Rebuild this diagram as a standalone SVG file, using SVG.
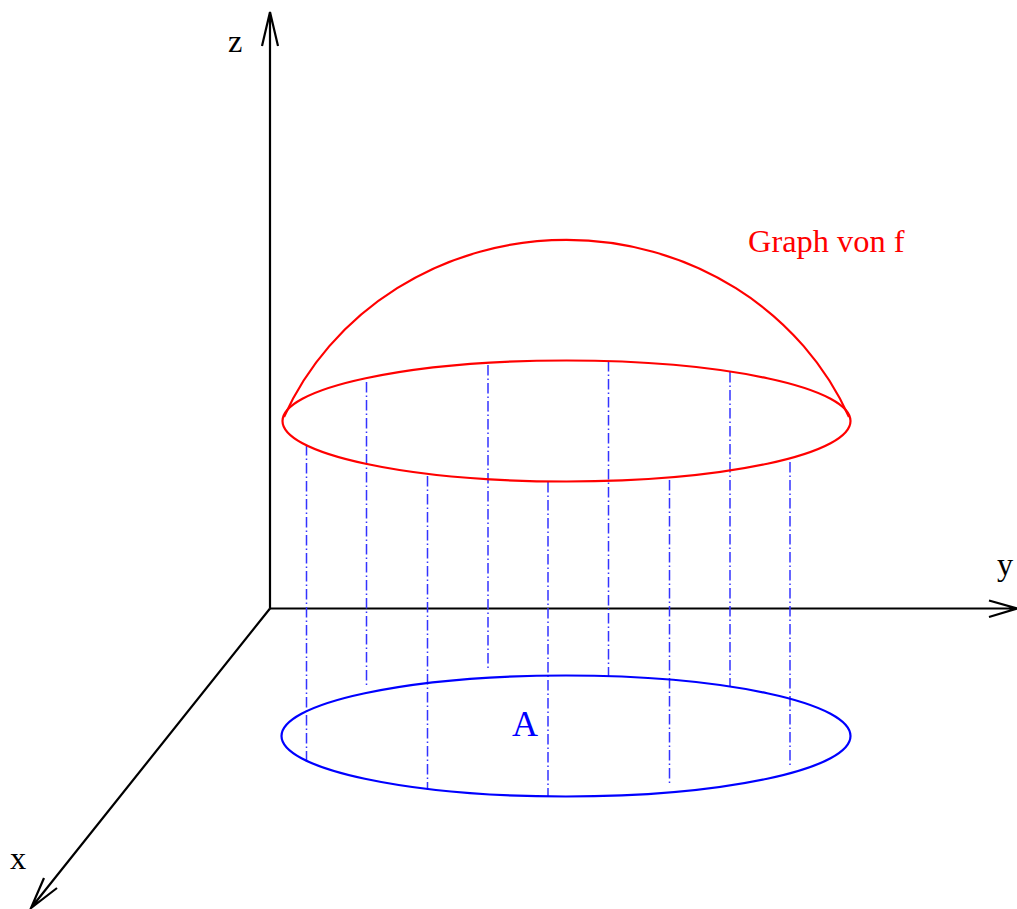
<svg xmlns="http://www.w3.org/2000/svg" width="1017" height="909" viewBox="0 0 1017 909">
<style>
text{font-family:"Liberation Serif","Times New Roman",serif;font-size:32.4px}
.ax{fill:none;stroke:#000;stroke-width:2.200}
.dd{fill:none;stroke:#3333ff;stroke-width:1.500;stroke-dasharray:10.500 3 1.500 3}
.r{fill:none;stroke:#f00;stroke-width:2.200}
.b{fill:none;stroke:#00f;stroke-width:2.200}
</style>
<rect width="1017" height="909" fill="#fff"/>
<g id="connectors">
<path class="ax" d="M270 608.500V12M262 46L270 12L278 46"/>
<path class="ax" d="M270 608.500H1017M989 600.500L1017 608.500L989 617"/>
<path class="ax" d="M270 608.500L31 908M44 878L31 908L57 888"/>
<path class="dd" d="M306.500 445V762M366.500 382V685M427.500 476V790M488 365V670M548 482V797M608.500 361V676M669.500 480V786M730 372V686M790 462V768"/>
</g>
<g id="graph">
<ellipse class="r" cx="566.500" cy="421" rx="284" ry="60.500"/>
<path class="r" d="M284 417A307 291 0 0 1 849 417"/>
<text x="748" y="252" fill="#f00">Graph von f</text>
</g>
<g id="region-a">
<ellipse class="b" cx="566" cy="736" rx="284.500" ry="60.500"/>
<text x="512" y="736" fill="#00f" style="font-size:36px">A</text>
</g>
<text id="label-z" x="228" y="52">z</text>
<text id="label-y" x="997" y="575">y</text>
<text id="label-x" x="10" y="869">x</text>
</svg>
